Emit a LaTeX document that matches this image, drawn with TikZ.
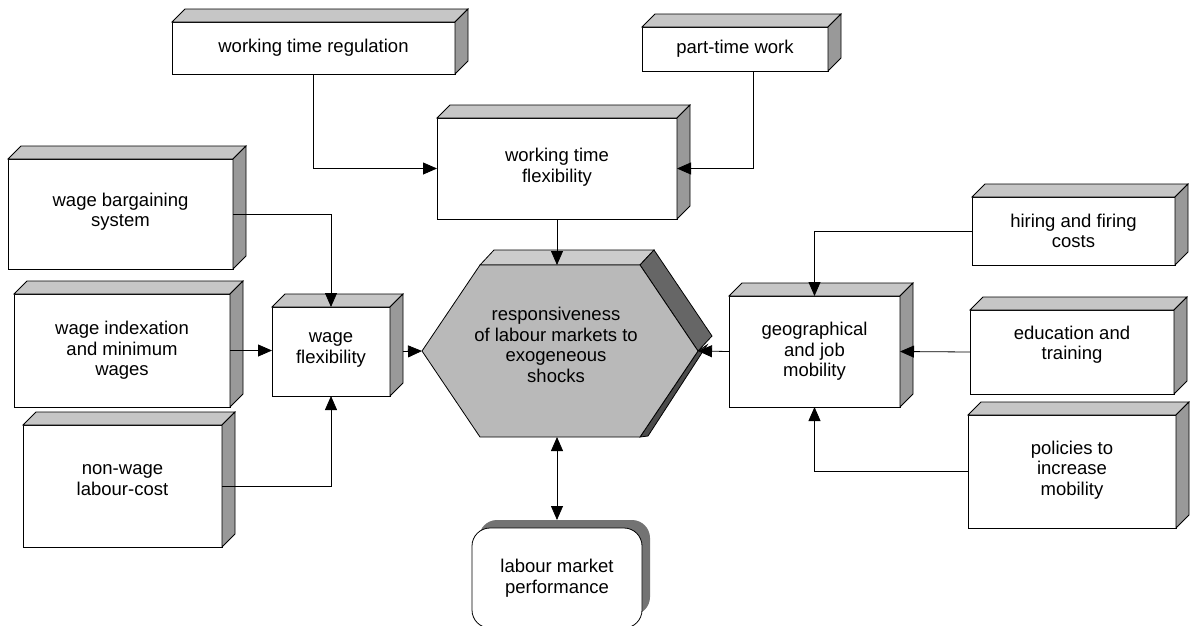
\documentclass[tikz,border=0pt]{standalone}
\usepackage{fontspec}
\setmainfont{Liberation Sans}
\usetikzlibrary{arrows.meta,calc}
\newcommand\lbl{\fontsize{18.5}{20.5}\selectfont}
\newcommand\mkfaces[1]{%
  \filldraw[topface] (#1.north west) -- ++(13,-13) -- ([shift={(13,-13)}]#1.north east) -- (#1.north east) -- cycle;
  \filldraw[sideface] (#1.north east) -- ++(13,-13) -- ([shift={(13,-13)}]#1.south east) -- (#1.south east) -- cycle;}
\tikzset{
  fbox/.style={draw, fill=white, line width=0.8pt, inner sep=2pt, outer sep=0pt, align=center, font=\lbl},
  topface/.style={draw=black, line width=0.8pt, fill=gray!45},
  sideface/.style={draw=black, line width=0.8pt, fill=gray!80},
  arr/.style={-{Triangle[length=14pt,width=12pt]}, line width=0.8pt},
  dblarr/.style={{Triangle[length=14pt,width=12pt]}-{Triangle[length=14pt,width=12pt]}, line width=0.8pt},
  conn/.style={line width=0.8pt}
}
\begin{document}
\begin{tikzpicture}[x=1pt,y=-1pt]
\useasboundingbox (0,0) rectangle (1192,625);
\fill[white] (0,0) rectangle (1192,625);

% boxes
\node[fbox, minimum width=283pt, minimum height=52pt] (wtr) at (313.5,48) {working time regulation};
\mkfaces{wtr}
\node[fbox, minimum width=186pt, minimum height=44pt] (ptw) at (735,49) {part-time work};
\mkfaces{ptw}
\node[fbox, minimum width=240pt, minimum height=101pt] (wtf) at (557,168.5) {working time\\flexibility\\[-14pt]};
\mkfaces{wtf}
\node[fbox, minimum width=225pt, minimum height=110pt] (wbs) at (120.5,214) {wage bargaining\\system\\[-12.5pt]};
\mkfaces{wbs}
\node[fbox, minimum width=216pt, minimum height=113pt] (wim) at (122,350.5) {wage indexation\\and minimum\\wages};
\mkfaces{wim}
\node[fbox, minimum width=199pt, minimum height=122pt] (nwl) at (122.5,486) {non-wage\\labour-cost\\[-8.5pt]};
\mkfaces{nwl}
\node[fbox, minimum width=118pt, minimum height=89pt] (wf) at (331,351.5) {wage\\flexibility\\[-14pt]};
\mkfaces{wf}
\node[fbox, minimum width=171pt, minimum height=111pt] (geo) at (814.5,351.5) {geographical\\and job\\mobility};
\mkfaces{geo}
\node[fbox, minimum width=203pt, minimum height=68pt] (hfc) at (1073.5,231) {hiring and firing\\costs};
\mkfaces{hfc}
\node[fbox, minimum width=204pt, minimum height=84pt] (edu) at (1072,352) {education and\\training\\[-2.5pt]};
\mkfaces{edu}
\node[fbox, minimum width=208pt, minimum height=113pt] (pol) at (1072,471.5) {policies to\\increase\\mobility\\[-14pt]};
\mkfaces{pol}

% hexagon
\coordinate (hexT) at (560,265);
\coordinate (hexB) at (557,437);
\coordinate (hexL) at (422,351);
\coordinate (hexR) at (698,351);
\filldraw[draw=black, line width=0.8pt, fill=gray!40] (480,265) -- (494,250) -- (654,250) -- (640,265) -- cycle;
\filldraw[draw=black, line width=0.8pt, fill=black!60] (640,265) -- (654,250) -- (712,336) -- (698,351) -- cycle;
\filldraw[draw=black, line width=0.8pt, fill=black!70] (698,351) -- (707,345) -- (648,436) -- (640,437) -- cycle;
\filldraw[draw=black, line width=0.8pt, fill=gray!55] (480,265) -- (640,265) -- (hexR) -- (640,437) -- (480,437) -- (hexL) -- cycle;
\node[font=\lbl, align=center] (hex) at (556,345) {responsiveness\\of labour markets to\\exogeneous\\shocks};

% labour market performance
\fill[black!55, rounded corners=18pt] (479,520) rectangle (650,615);
\node[draw, fill=white, line width=0.8pt, rounded corners=18pt, outer sep=0pt, minimum width=170pt, minimum height=100pt, align=center, font=\lbl, anchor=north] (lmp) at (557,528) {labour market\\performance};
\coordinate (lmpT) at (557,520);

% connectors
\draw[arr] (wtr.south) |- (wtf.west);
\draw[arr] ([xshift=18pt]ptw.south) |- (wtf.east);
\draw[arr] (wtf.south) -- (wtf.south |- hexT);
\draw[arr] (wbs.east) -| (wf.north);
\draw[arr] (wim.east) -- (wim.east -| wf.west);
\draw[arr] (nwl.east) -| (wf.south);
\draw[arr] ([xshift=13pt]wf.east) -- (hexL);
\draw[arr] (hfc.west) -| (geo.north);
\draw[arr] (edu.west) -- (geo.east);
\draw[arr] (pol.west) -| (geo.south);
\draw[arr] (geo.west) -- (hexR);
\draw[dblarr] (hexB) -- (lmpT);
\end{tikzpicture}
\end{document}
